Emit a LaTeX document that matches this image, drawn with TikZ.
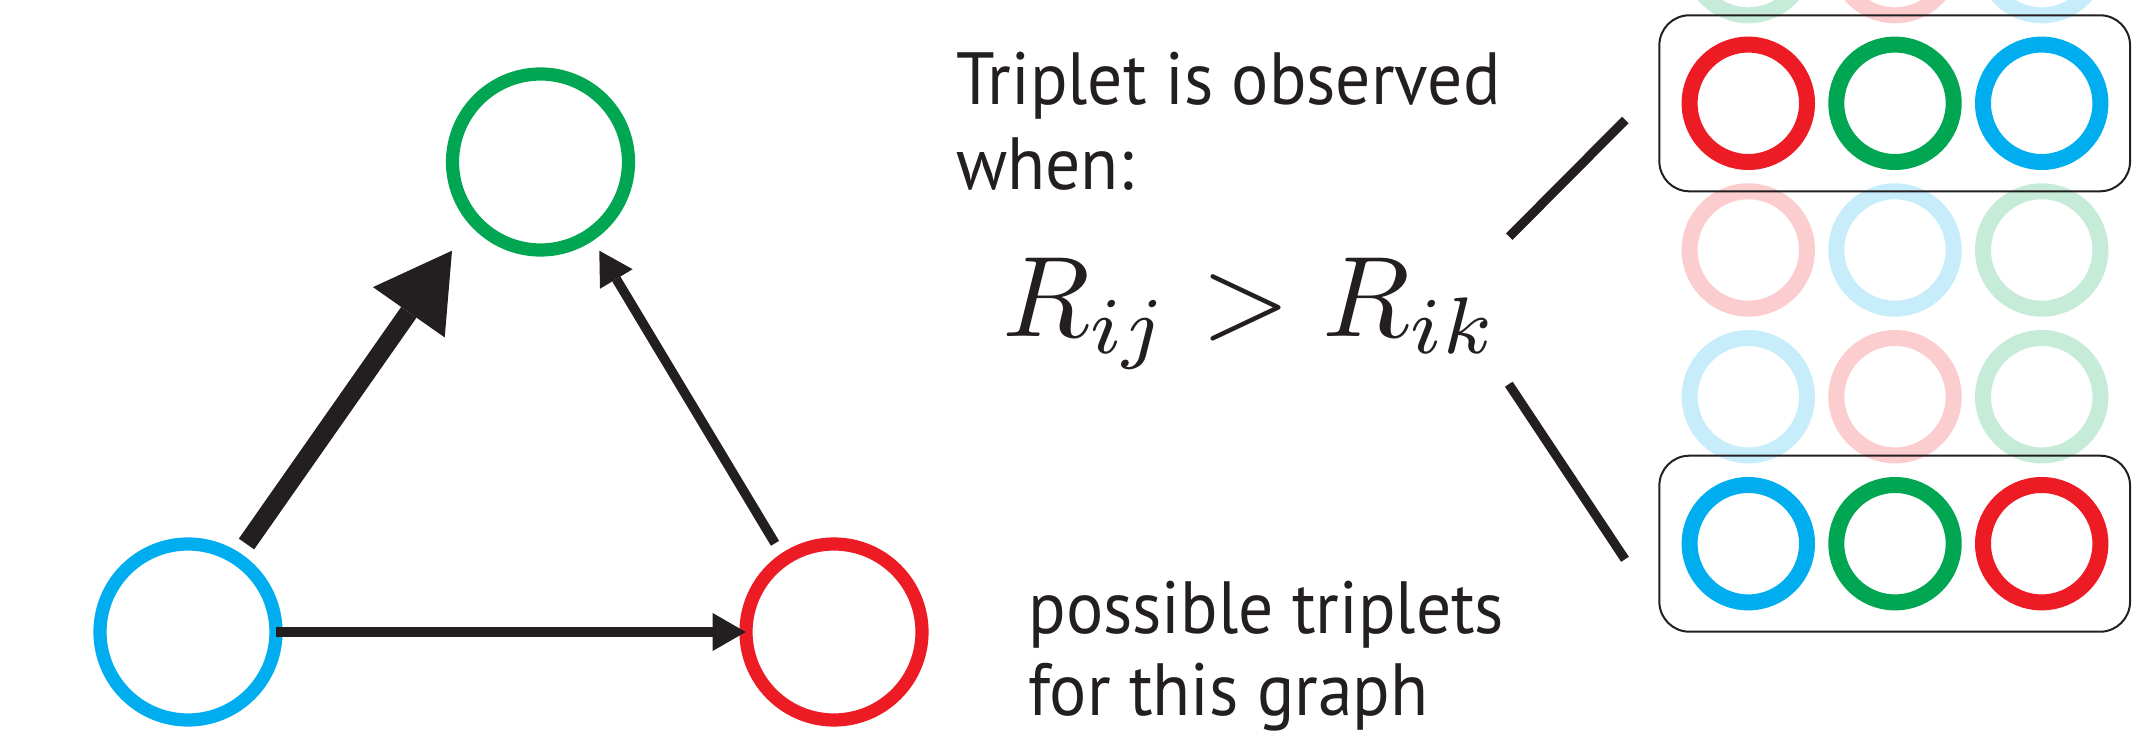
\documentclass[tikz,border=0pt]{standalone}
\usepackage{graphicx}
\usepackage{fontspec}
\setmainfont{PT Sans}[FakeStretch=0.94]
\usetikzlibrary{arrows.meta}
\definecolor{cred}{HTML}{ED1C24}
\definecolor{cgreen}{HTML}{00A651}
\definecolor{cblue}{HTML}{00AEEF}
\definecolor{ink}{HTML}{231F20}
\begin{document}
\begin{tikzpicture}[x=0.5pt,y=-0.5pt,
  gnode/.style={circle, draw=#1, line width=6.6pt, minimum size=88pt, inner sep=0pt},
  tnode/.style={circle, draw=#1, line width=8pt, minimum size=58.7pt, inner sep=0pt},
  faded/.style={tnode=#1!22},
  full/.style={tnode=#1},
  tbox/.style={draw=ink, line width=1pt, rounded corners=15pt, minimum width=235.35pt, minimum height=88pt, inner sep=0pt},
  lbl/.style={font=\fontsize{37}{42.5}\selectfont, text=ink, anchor=base west, inner sep=0pt},
  eqlbl/.style={text=ink, anchor=base west, inner sep=0pt},
  edge/.style={draw=ink, line width=4.75pt, -{Triangle[length=16.5pt,width=19pt,line width=0pt]}},
  bigedge/.style={draw=ink, line width=9.35pt, -{Triangle[length=37.6pt,width=43.8pt,line width=0pt]}},
  link/.style={draw=ink, line width=4.6pt}
]
\useasboundingbox (0,0) rectangle (2132,732);
\clip (0,0) rectangle (2132,732);

% graph
\node[gnode=cblue]  (vb) at (188,632) {};
\node[gnode=cgreen] (vg) at (540.5,162) {};
\node[gnode=cred]   (vr) at (834,632) {};

\coordinate (e1s) at (246.5,544);
\coordinate (e1t) at (452,250.7);
\coordinate (e2s) at (276,632);
\coordinate (e2t) at (745.7,632);
\coordinate (e3s) at (775,543.3);
\coordinate (e3t) at (599.3,250.7);
\draw[bigedge] (e1s) -- (e1t);
\draw[edge] (e2s) -- (e2t);
\draw[edge] (e3s) -- (e3t);

% texts
\node[lbl] (t1) at (956,105) {Triplet is observed};
\node[lbl] (t2) at (956,190) {when:};
\node[eqlbl] (eq) at (1002,336.7) {\scalebox{5.73}{$R_{ij} > R_{ik}$}};
\node[lbl] (p1) at (1028,633) {possible triplets};
\node[lbl] (p2) at (1028,715.5) {for this graph};

% triplet grid
\node[faded=cgreen] (a1) at (1748.3,-43.4) {};
\node[faded=cred]   (a2) at (1895,-43.4) {};
\node[faded=cblue]  (a3) at (2041.7,-43.4) {};
\node[full=cred]    (b1) at (1748.3,103.3) {};
\node[full=cgreen]  (b2) at (1895,103.3) {};
\node[full=cblue]   (b3) at (2041.7,103.3) {};
\node[faded=cred]   (c1) at (1748.3,250) {};
\node[faded=cblue]  (c2) at (1895,250) {};
\node[faded=cgreen] (c3) at (2041.7,250) {};
\node[faded=cblue]  (d1) at (1748.3,396.7) {};
\node[faded=cred]   (d2) at (1895,396.7) {};
\node[faded=cgreen] (d3) at (2041.7,396.7) {};
\node[full=cblue]   (f1) at (1748.3,543.7) {};
\node[full=cgreen]  (f2) at (1895,543.7) {};
\node[full=cred]    (f3) at (2041.7,543.7) {};

\node[tbox] (box1) at (1894.7,103.3) {};
\node[tbox] (box2) at (1894.7,543.7) {};

\coordinate (l1s) at (1509.2,236.7);
\coordinate (l1t) at (1625.3,120);
\coordinate (l2s) at (1508.8,384.2);
\coordinate (l2t) at (1625,559.3);
\draw[link] (l1s) -- (l1t);
\draw[link] (l2s) -- (l2t);
\end{tikzpicture}
\end{document}
